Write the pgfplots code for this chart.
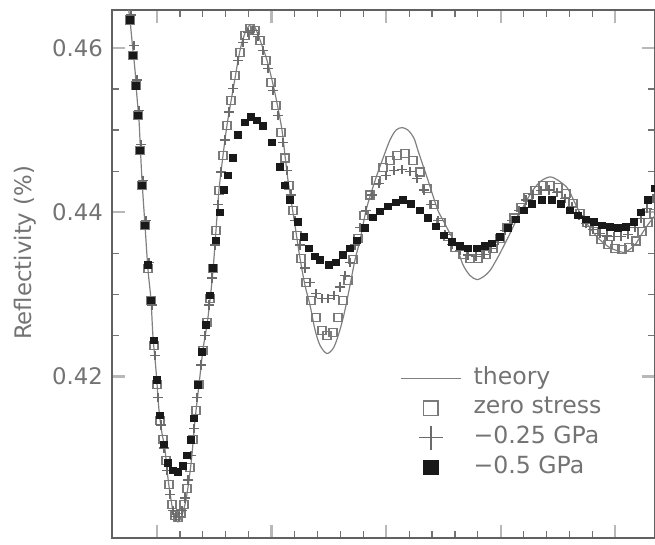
\documentclass[border=0pt]{standalone}
\usepackage{pgfplots}
\pgfplotsset{compat=1.18}
\usepackage{fontspec}
\setmainfont{DejaVu Sans}
\definecolor{txt}{gray}{0.45}
\definecolor{axc}{gray}{0.38}
\definecolor{thc}{gray}{0.5}
\definecolor{sqc}{gray}{0.48}
\definecolor{plc}{gray}{0.42}
\definecolor{blk}{gray}{0.1}
\begin{document}
\begin{tikzpicture}
\begin{axis}[name=ax, scale only axis, width=271.5pt, height=264pt,
  xmin=112, xmax=655, ymin=0.40034, ymax=0.46462,
  xtick={157,271.6,386.2,500.8,615.4}, minor x tick num=4, xticklabels={},
  ytick={0.42,0.44,0.46}, yticklabels={0.42,0.44,0.46}, minor y tick num=3,
  /pgf/number format/assume math mode=true,
  tick align=inside,
  major tick length=6.5pt, minor tick length=3.5pt,
  major tick style={black!28, line width=1.1pt},
  minor tick style={black!55, line width=0.6pt},
  axis line style={axc, line width=1.1pt},
  yticklabel style={font=\fontsize{11.4}{13}\selectfont, text=txt, xshift=-1pt},
  ylabel={Reflectivity (\%)},
  ylabel style={font=\fontsize{11.4}{13}\selectfont, text=txt, at={(axis description cs:-0.16,0.54)}, anchor=center},
  legend style={draw=none, fill=none, inner sep=0pt, at={(rel axis cs:0.53,0.331)}, anchor=north west,
    font=\fontsize{11.8}{13}\selectfont, text=txt, row sep=0pt, column sep=4pt,
    nodes={text height=8.3pt, text depth=2.5pt}},
  legend cell align=left,
]
\addlegendimage{legend image code/.code={\draw[thc, line width=0.7pt] (0pt,0pt) -- (30pt,0pt);}}
\addlegendentry{theory}
\addlegendimage{legend image code/.code={\draw[sqc, line width=0.7pt, mark=square, mark size=3.6pt] plot coordinates {(15pt,0pt)};}}
\addlegendentry{zero stress}
\addlegendimage{legend image code/.code={\draw[plc, line width=0.7pt, mark=+, mark size=6pt] plot coordinates {(15pt,0pt)};}}
\addlegendentry{−0.25 GPa}
\addlegendimage{legend image code/.code={\draw[blk, fill=blk, mark=square*, mark size=3.6pt, mark options={fill=blk}] plot coordinates {(15pt,0pt)};}}
\addlegendentry{−0.5 GPa}

% theory
\addplot[thc, line width=0.6pt, smooth, forget plot] table {
124 0.4682
128 0.4652
130 0.4634
132 0.4609
135 0.4573
137 0.4540
139 0.4512
140 0.4488
142 0.4439
145 0.4384
148 0.4330
151 0.4293
153 0.4248
156 0.4208
159 0.4159
162 0.4131
165 0.4111
168 0.4076
171 0.4050
174 0.4031
178 0.4023
181 0.4028
183 0.4035
186 0.4050
189 0.4074
192 0.4105
195 0.4147
199 0.4190
203 0.4233
207 0.4263
210 0.4293
213 0.4329
216 0.4378
219 0.4427
223 0.4469
227 0.4506
233 0.4549
240 0.4597
245 0.4618
250 0.4628
255 0.4625
262 0.4603
267 0.4585
272 0.4561
277 0.4533
282 0.4500
285 0.4469
288 0.4439
291 0.4415
295 0.4384
300 0.4344
305 0.4311
310 0.4287
315 0.4257
320 0.4238
327 0.4228
334 0.4236
340 0.4257
345 0.4281
350 0.4311
355 0.4342
360 0.4366
366 0.4402
372 0.4427
378 0.4449
384 0.4469
390 0.4488
396 0.4500
402 0.4503
408 0.4500
414 0.4490
418 0.4475
423 0.4457
428 0.4439
433 0.4420
438 0.4402
444 0.4388
450 0.4374
456 0.4360
463 0.4336
470 0.4323
477 0.4318
484 0.4322
490 0.4329
495 0.4339
500 0.4350
505 0.4362
510 0.4374
515 0.4387
520 0.4399
526 0.4413
533 0.4427
541 0.4438
550 0.4443
558 0.4439
567 0.4430
572 0.4419
577 0.4406
583 0.4393
590 0.4381
597 0.4370
604 0.4362
611 0.4356
618 0.4353
624 0.4351
630 0.4355
636 0.4362
642 0.4374
648 0.4385
655 0.4396
};

% zero stress
\addplot[only marks, mark=square, mark size=2pt, sqc, line width=0.55pt, forget plot] table {
130 0.4634
133 0.4591
136 0.4554
138 0.4518
140 0.4475
142 0.4433
145 0.4384
148 0.4332
151 0.4293
154 0.4238
157 0.4190
160 0.4147
163 0.4123
166 0.4098
169 0.4068
172 0.4044
175 0.4031
178 0.4028
181 0.4033
184 0.4044
187 0.4064
190 0.4089
193 0.4123
196 0.4159
199 0.4190
203 0.4232
207 0.4266
210 0.4295
213 0.4332
216 0.4378
219 0.4427
223 0.4469
227 0.4506
231 0.4536
235 0.4567
240 0.4595
245 0.4615
250 0.4624
255 0.4621
260 0.4609
266 0.4585
271 0.4558
276 0.4530
281 0.4497
285 0.4466
289 0.4433
293 0.4402
297 0.4372
301 0.4344
306 0.4315
311 0.4293
316 0.4272
322 0.4256
327 0.4250
333 0.4254
338 0.4272
343 0.4293
348 0.4317
353 0.4342
358 0.4368
364 0.4396
370 0.4421
376 0.4439
383 0.4454
390 0.4463
397 0.4469
405 0.4472
413 0.4463
420 0.4449
427 0.4429
434 0.4409
441 0.4388
448 0.4371
455 0.4357
463 0.4348
470 0.4344
478 0.4344
486 0.4348
493 0.4356
500 0.4368
507 0.4381
514 0.4393
521 0.4406
528 0.4418
535 0.4427
543 0.4432
550 0.4433
558 0.4430
566 0.4423
573 0.4411
580 0.4399
587 0.4388
594 0.4377
601 0.4367
608 0.4361
615 0.4356
622 0.4355
629 0.4357
636 0.4365
642 0.4376
648 0.4388
654 0.4398
};

% -0.25 GPa
\addplot[only marks, mark=+, mark size=2.3pt, plc, line width=0.6pt, forget plot] table {
131 0.4640
134 0.4603
137 0.4561
139 0.4524
141 0.4482
143 0.4439
146 0.4390
149 0.4339
152 0.4287
155 0.4226
158 0.4174
161 0.4141
164 0.4113
167 0.4086
170 0.4056
173 0.4037
176 0.4030
179 0.4030
182 0.4037
185 0.4052
188 0.4074
191 0.4104
194 0.4137
197 0.4174
201 0.4214
205 0.4250
209 0.4287
212 0.4320
215 0.4360
218 0.4409
221 0.4449
225 0.4488
229 0.4522
233 0.4551
238 0.4585
243 0.4607
248 0.4619
253 0.4621
258 0.4614
263 0.4597
268 0.4575
273 0.4548
278 0.4518
283 0.4485
287 0.4451
291 0.4421
295 0.4390
300 0.4360
305 0.4332
310 0.4314
316 0.4301
322 0.4295
328 0.4295
334 0.4299
340 0.4309
345 0.4323
350 0.4339
355 0.4360
360 0.4381
366 0.4402
372 0.4421
379 0.4435
386 0.4445
394 0.4451
402 0.4452
410 0.4450
417 0.4441
424 0.4427
431 0.4409
438 0.4390
445 0.4373
452 0.4361
460 0.4353
468 0.4348
476 0.4346
484 0.4349
491 0.4356
498 0.4366
505 0.4378
512 0.4390
519 0.4402
526 0.4415
533 0.4422
541 0.4426
549 0.4427
557 0.4424
565 0.4417
572 0.4407
579 0.4396
586 0.4386
593 0.4379
600 0.4374
607 0.4371
614 0.4370
621 0.4370
628 0.4373
635 0.4381
641 0.4392
647 0.4405
653 0.4417
};

% -0.5 GPa
\addplot[only marks, mark=square*, mark size=1.6pt, blk, mark options={fill=blk, draw=blk}, forget plot] table {
130 0.4634
133 0.4591
136 0.4554
138 0.4518
140 0.4475
142 0.4433
145 0.4384
148 0.4336
151 0.4293
154 0.4244
157 0.4196
160 0.4153
164 0.4117
168 0.4095
173 0.4086
178 0.4084
183 0.4091
187 0.4104
191 0.4123
194 0.4149
198 0.4190
202 0.4230
206 0.4263
210 0.4299
213 0.4332
216 0.4366
220 0.4400
224 0.4427
228 0.4445
233 0.4466
238 0.4494
245 0.4509
251 0.4516
257 0.4512
263 0.4505
272 0.4485
280 0.4455
285 0.4433
290 0.4415
298 0.4388
304 0.4370
309 0.4356
315 0.4346
320 0.4342
329 0.4336
336 0.4339
343 0.4348
350 0.4356
357 0.4366
365 0.4381
373 0.4394
380 0.4401
388 0.4407
396 0.4412
403 0.4415
411 0.4410
420 0.4402
428 0.4393
436 0.4383
444 0.4372
452 0.4364
460 0.4359
468 0.4356
477 0.4356
485 0.4359
492 0.4362
500 0.4370
508 0.4381
516 0.4391
524 0.4402
532 0.4410
542 0.4415
552 0.4415
561 0.4410
570 0.4402
578 0.4396
586 0.4391
594 0.4388
602 0.4384
610 0.4382
618 0.4381
626 0.4382
634 0.4388
641 0.4400
648 0.4415
655 0.4429
};
\end{axis}
\pgfresetboundingbox
\path ([xshift=-56pt,yshift=-3pt]ax.south west) rectangle ([yshift=5pt]ax.north east);
\end{tikzpicture}
\end{document}
